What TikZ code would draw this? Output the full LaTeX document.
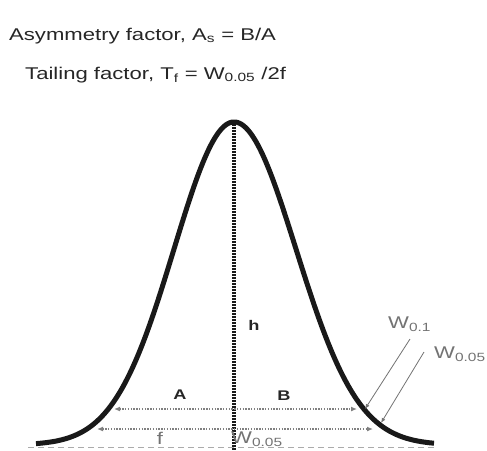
\documentclass[tikz,border=0pt]{standalone}
\usepackage{fontspec}
\setmainfont{Liberation Sans}
\newfontfamily\widefont[FakeStretch=1.3]{Liberation Sans}
\usetikzlibrary{arrows.meta}
\definecolor{lbl}{gray}{0.45}
\definecolor{dotc}{gray}{0.5}
\begin{document}
\begin{tikzpicture}[x=1pt,y=-1pt,
  every node/.style={inner sep=0pt, font=\widefont},
  title/.style={anchor=west, font=\widefont\fontsize{17}{19}\selectfont, text=black!85},
  peakline/.style={line width=5pt, black!90},
  vdots/.style={line width=3.2pt, dash pattern=on 1.7pt off 1.3pt, black!90},
  hdots/.style={line width=1.3pt, dash pattern=on 1.3pt off 1.5pt, dotc, {Latex[length=6pt,width=5pt]}-{Latex[length=6pt,width=5pt]}},
  wline/.style={line width=0.8pt, lbl, -{Latex[length=5pt,width=4pt]}},
  base/.style={line width=0.8pt, lbl!60, dash pattern=on 6pt off 4pt},
  bold lbl/.style={font=\widefont\fontsize{14}{16}\selectfont\bfseries, text=black!85},
  gray lbl/.style={font=\widefont\fontsize{17}{19}\selectfont, text=lbl}]
\useasboundingbox (0,0) rectangle (487,450);
\clip (0,0) rectangle (487,450);

% titles
\node[title] (t1) at (9,36) {Asymmetry factor, A\textsubscript{s} = B/A};
\node[title] (t2) at (25,75) {Tailing factor, T\textsubscript{f} = W\textsubscript{0.05} /2f};

% baseline
\coordinate (bl) at (28,447);
\coordinate (br) at (434,447);
\draw[base] (bl) -- (br);

% peak
\draw[peakline, line join=round] plot[domain=36:234, samples=120, smooth] (\x, {445-323*exp(-0.5*((\x-234)/60)^2)})
  -- plot[domain=234:434, samples=120, smooth] (\x, {445-323*exp(-0.5*((\x-234)/62)^2)});

% height line
\coordinate (apex) at (234,124);
\coordinate (foot) at (234,452);
\draw[vdots] (apex) -- (foot);

% width lines
\coordinate (a1) at (114,409);
\coordinate (b1) at (357,409);
\coordinate (a2) at (97,429);
\coordinate (b2) at (373,429);
\draw[hdots] (a1) -- (b1);
\draw[hdots] (a2) -- (b2);

% labels
\node[bold lbl] (h) at (254,325) {h};
\node[bold lbl] (A) at (180,395) {A};
\node[bold lbl] (B) at (284,396) {B};
\node[gray lbl] (f) at (160,438) {f};
\node[gray lbl, anchor=west] (w05b) at (231,439) {W\textsubscript{0.05}};

\node[gray lbl, anchor=west] (w01) at (388,324) {W\textsubscript{0.1}};
\node[gray lbl, anchor=west] (w05) at (434,354) {W\textsubscript{0.05}};

\coordinate (p1) at (410,339);
\coordinate (q1) at (365,409);
\coordinate (p2) at (424,352);
\coordinate (q2) at (381,423);
\draw[wline] (p1) -- (q1);
\draw[wline] (p2) -- (q2);
\end{tikzpicture}
\end{document}
